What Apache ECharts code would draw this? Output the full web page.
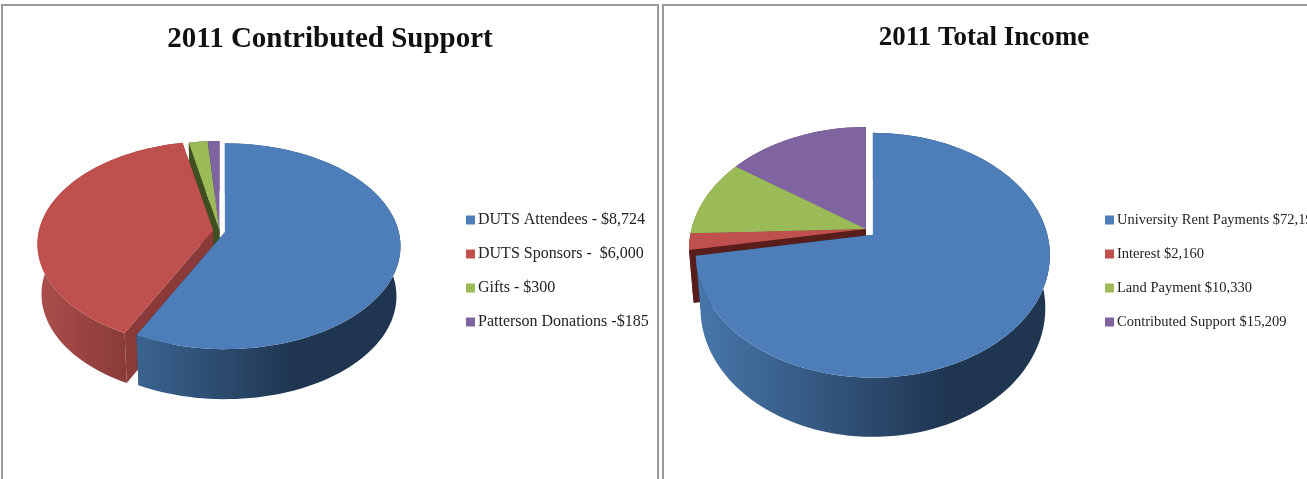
<!DOCTYPE html>
<html>
<head>
<meta charset="utf-8">
<style>
html, body { margin: 0; padding: 0; background: #fff; }
#main { width: 1307px; height: 479px; filter: blur(0.5px); }
</style>
<script src="https://cdn.jsdelivr.net/npm/echarts@6/dist/echarts.min.js"></script>
</head>
<body>
<div id="main"></div>
<script>
var supportTitle = '2011 Contributed Support';
var supportLabels = ['DUTS Attendees - $8,724', 'DUTS Sponsors -  $6,000', 'Gifts - $300', 'Patterson Donations -$185'];
var supportValues = [8724, 6000, 300, 185];

var incomeTitle = '2011 Total Income';
var incomeLabels = ['University Rent Payments $72,195', 'Interest $2,160', 'Land Payment $10,330', 'Contributed Support $15,209'];
var incomeValues = [72195, 2160, 10330, 15209];

var sliceColors = ['#4d7eb9', '#bf504d', '#9bbb59', '#8064a2'];

// 3d look of each pie: k/kq top plane radii, p perspective, kb/kqb/db bottom plane
var supportPie = {
    cx: 219.5, cy: 231, k: 174, kq: 101, p: 0.136, kb: 170, kqb: 101, db: 50,
    explode: [5.5, 6.5, 1, 1],
    walls: [
        { type: 'linear', x: 139, y: 0, x2: 295, y2: 0, global: true, colorStops: [{ offset: 0, color: '#3a638f' }, { offset: 1, color: '#1f3550' }] },
        { type: 'linear', x: 40, y: 0, x2: 130, y2: 0, global: true, colorStops: [{ offset: 0, color: '#aa4e4b' }, { offset: 1, color: '#883a38' }] },
        '#404f22', '#4d3c62'
    ],
    cuts: ['#1f3550', '#8a3b39', '#404f22', '#4d3c62']
};
var incomePie = {
    cx: 866, cy: 229, k: 174.5, kq: 119, p: 0.167, kb: 170, kqb: 125, db: 52,
    explode: [9, 0, 0, 0],
    walls: [
        { type: 'linear', x: 703, y: 0, x2: 950, y2: 0, global: true, colorStops: [{ offset: 0, color: '#4675a9' }, { offset: 1, color: '#1f3550' }] },
        '#571e1c', '#5c7031', '#4d3c62'
    ],
    cuts: ['#1f3550', '#571e1c', '#5c7031', '#4d3c62']
};

function sliceAngles(values) {
    var total = values.reduce(function (a, b) { return a + b; }, 0);
    var sum = 0;
    return values.map(function (v) {
        var start = sum / total * 360;
        sum += v;
        return [start, sum / total * 360];
    });
}

function project(pie, apex, deg, bottom) {
    var t = deg * Math.PI / 180;
    var sx = Math.sin(t), sy = -Math.cos(t);
    var w = 1 - pie.p * sy;
    if (bottom) {
        return [apex[0] + pie.kb * sx / w, apex[1] + pie.db + pie.kqb * sy / w];
    }
    return [apex[0] + pie.k * sx / w, apex[1] + pie.kq * sy / w];
}

function apexOf(pie, i, start, end) {
    var mid = (start + end) / 2 * Math.PI / 180;
    return [pie.cx + pie.explode[i] * Math.sin(mid), pie.cy - pie.explode[i] * Math.cos(mid)];
}

function arc(pie, apex, start, end, bottom) {
    var pts = [];
    var n = Math.max(2, Math.ceil((end - start) / 2));
    for (var i = 0; i <= n; i++) {
        pts.push(project(pie, apex, start + (end - start) * i / n, bottom));
    }
    return pts;
}

function polygon(points, fill) {
    return { type: 'polygon', shape: { points: points }, style: { fill: fill, stroke: null }, silent: true };
}

function wallSeries(pie, values, name) {
    var angles = sliceAngles(values);
    // back slices first
    var order = values.map(function (v, i) { return i; }).sort(function (a, b) {
        var ma = (angles[a][0] + angles[a][1]) / 2, mb = (angles[b][0] + angles[b][1]) / 2;
        return Math.abs(ma - 180) > Math.abs(mb - 180) ? -1 : 1;
    });
    return {
        type: 'custom',
        name: name,
        coordinateSystem: 'none',
        silent: true,
        z: 2,
        data: order.map(function (i) { return [i]; }),
        renderItem: function (params, api) {
            var i = api.value(0);
            var a = angles[i];
            var apex = apexOf(pie, i, a[0], a[1]);
            var apexLow = [apex[0], apex[1] + pie.db];
            var outer = arc(pie, apex, a[0], a[1], false).concat(arc(pie, apex, a[0], a[1], true).reverse());
            var cutA = [apex, project(pie, apex, a[0], false), project(pie, apex, a[0], true), apexLow];
            var cutB = [apex, project(pie, apex, a[1], false), project(pie, apex, a[1], true), apexLow];
            return {
                type: 'group',
                children: [polygon(cutB, pie.cuts[i]), polygon(cutA, pie.cuts[i]), polygon(outer, pie.walls[i])]
            };
        }
    };
}

function topSeries(pie, values, labels) {
    var angles = sliceAngles(values);
    return values.map(function (v, i) {
        return {
            type: 'custom',
            name: labels[i],
            coordinateSystem: 'none',
            silent: true,
            z: 3,
            itemStyle: { color: sliceColors[i] },
            data: [angles[i]],
            renderItem: function (params, api) {
                var start = api.value(0), end = api.value(1);
                var apex = apexOf(pie, i, start, end);
                return polygon([apex].concat(arc(pie, apex, start, end, false)), sliceColors[i]);
            }
        };
    });
}

function legendFor(labels, left, top, size) {
    return {
        orient: 'vertical',
        left: left,
        top: top,
        padding: 0,
        itemWidth: 9,
        itemHeight: 9,
        itemGap: 34 - 18,
        selectedMode: false,
        icon: 'rect',
        data: labels,
        textStyle: { fontFamily: 'Liberation Sans Narrow', fontSize: size, color: '#222', lineHeight: 18, padding: [0, 0, 0, -2] }
    };
}

function frame(x, y, w, h) {
    return { type: 'rect', shape: { x: x, y: y, width: w, height: h }, style: { fill: 'none', stroke: '#9a9a9a', lineWidth: 2 }, silent: true };
}

var chart = echarts.init(document.getElementById('main'));
chart.setOption({
    animation: false,
    backgroundColor: '#fff',
    title: [
        { text: supportTitle, left: 330, top: 25, textAlign: 'center', padding: 0, textStyle: { fontFamily: 'Liberation Sans Narrow', fontWeight: 'bold', fontSize: 29, color: '#111' } },
        { text: incomeTitle, left: 984, top: 25, textAlign: 'center', padding: 0, textStyle: { fontFamily: 'Liberation Sans Narrow', fontWeight: 'bold', fontSize: 27, color: '#111' } }
    ],
    legend: [
        legendFor(supportLabels, 466, 211, 16),
        legendFor(incomeLabels, 1105, 211, 14.5)
    ],
    graphic: [frame(2, 5, 656, 476), frame(663, 5, 646, 476)],
    series: [wallSeries(supportPie, supportValues, 'support walls'), wallSeries(incomePie, incomeValues, 'income walls')]
        .concat(topSeries(supportPie, supportValues, supportLabels))
        .concat(topSeries(incomePie, incomeValues, incomeLabels))
});
</script>
</body>
</html>
